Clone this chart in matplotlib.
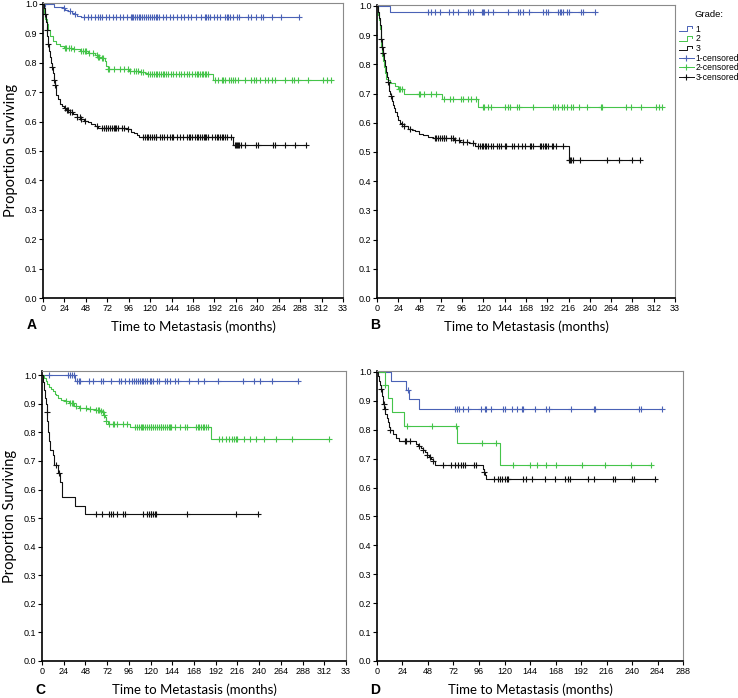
import numpy as np
import matplotlib
matplotlib.use("Agg")
import matplotlib.pyplot as plt
from matplotlib.lines import Line2D
from matplotlib.legend_handler import HandlerBase

# ---- data ----
# panel A
a1_t = [0, 12, 22, 25, 28, 32, 35, 38, 42]
a1_s = [1.0, 0.99, 0.985, 0.98, 0.975, 0.97, 0.965, 0.96, 0.956]
a1_c = [2, 24, 30, 36, 46, 50, 54, 58, 62, 64, 66, 70, 74, 78, 82, 86, 90, 94, 98, 100, 101, 103,
        105, 107, 109, 111, 113, 115, 118, 120, 122, 124, 126, 128, 130, 134, 138, 142, 146, 150,
        154, 158, 162, 166, 171, 177, 181, 183, 185, 187, 191, 195, 198, 204, 206, 207, 209, 213,
        217, 220, 230, 233, 239, 244, 246, 257, 266, 287]
a2_t = [0, 1, 2, 4, 6, 8, 11, 15, 19, 24, 32, 41, 50, 58, 62, 66, 69, 71, 73, 90, 96, 108, 114, 118, 190]
a2_s = [1.0, 0.97, 0.95, 0.93, 0.91, 0.89, 0.875, 0.865, 0.857, 0.85, 0.845, 0.84, 0.833, 0.826, 0.82,
        0.815, 0.805, 0.79, 0.78, 0.777, 0.773, 0.768, 0.764, 0.76, 0.742]
a2_c = [25, 26, 29, 31, 35, 43, 45, 47, 48, 52, 56, 60, 62, 63, 66, 67, 73, 74, 80, 86, 91, 95, 97,
        102, 104, 106, 110, 112, 118, 120, 122, 124, 126, 128, 130, 132, 134, 136, 138, 140, 143,
        146, 149, 152, 155, 158, 161, 164, 167, 170, 172, 174, 176, 178, 179, 181, 183, 185, 193,
        196, 200, 202, 204, 208, 211, 213, 215, 218, 226, 233, 236, 239, 243, 249, 252, 256, 260,
        271, 279, 281, 286, 297, 314, 318, 322]
a3_t = [0, 1, 2, 3, 4, 5, 6, 7, 8, 9, 10, 11, 12, 13, 14, 15, 17, 19, 21, 23, 26, 30, 34, 38, 42,
        46, 50, 54, 58, 62, 94, 98, 102, 105, 108, 213]
a3_s = [1.0, 0.985, 0.965, 0.94, 0.91, 0.89, 0.865, 0.84, 0.82, 0.80, 0.785, 0.765, 0.74, 0.725,
        0.712, 0.69, 0.675, 0.66, 0.652, 0.646, 0.64, 0.633, 0.626, 0.617, 0.61, 0.603, 0.597, 0.591,
        0.585, 0.579, 0.573, 0.566, 0.56, 0.555, 0.549, 0.519]
a3_c = [2, 4, 6, 10, 12, 13, 25, 27, 28, 30, 32, 38, 41, 43, 47, 60, 66, 68, 70, 71, 73, 75, 77,
        79, 81, 82, 84, 88, 91, 95, 112, 114, 116, 118, 120, 122, 124, 126, 127, 131, 133, 135,
        139, 142, 144, 146, 150, 153, 157, 161, 163, 165, 167, 170, 172, 174, 176, 178, 180, 181,
        183, 185, 189, 193, 195, 196, 198, 200, 202, 204, 206, 210, 215, 216, 217, 218, 220, 222,
        226, 239, 241, 258, 260, 271, 282, 295]

# panel B
b1_t = [0, 15]
b1_s = [1.0, 0.978]
b1_c = [58, 61, 65, 71, 81, 86, 91, 103, 105, 108, 118, 119, 121, 125, 131, 148, 159, 161, 165,
        171, 187, 191, 193, 204, 206, 208, 210, 214, 217, 230, 232, 246]
b2_t = [0, 1, 2, 3, 4, 5, 6, 7, 8, 9, 10, 12, 15, 20, 24, 30, 73, 114]
b2_s = [1.0, 0.97, 0.95, 0.92, 0.89, 0.86, 0.83, 0.81, 0.79, 0.77, 0.75, 0.745, 0.735, 0.725,
        0.715, 0.70, 0.68, 0.654]
b2_c = [25, 26, 28, 47, 49, 53, 61, 67, 75, 82, 86, 95, 97, 103, 106, 112, 120, 121, 125, 129,
        144, 148, 150, 158, 160, 176, 198, 201, 204, 209, 211, 214, 219, 221, 228, 237, 252, 254,
        281, 286, 298, 315, 318, 321]
b3_t = [0, 1, 2, 3, 4, 5, 6, 7, 8, 9, 10, 11, 12, 13, 14, 15, 16, 17, 18, 19, 20, 22, 24, 26, 28,
        31, 35, 39, 43, 47, 52, 57, 63, 87, 94, 104, 110, 216]
b3_s = [1.0, 0.98, 0.96, 0.935, 0.91, 0.885, 0.86, 0.84, 0.815, 0.795, 0.775, 0.755, 0.74, 0.725,
        0.71, 0.7, 0.69, 0.675, 0.66, 0.65, 0.638, 0.622, 0.61, 0.6, 0.595, 0.588, 0.58, 0.575,
        0.57, 0.563, 0.558, 0.552, 0.547, 0.541, 0.535, 0.529, 0.52, 0.471]
b3_c = [5, 6, 7, 12, 16, 28, 31, 37, 65, 67, 69, 71, 73, 75, 76, 78, 84, 86, 88, 93, 97, 101, 108,
        114, 116, 118, 120, 122, 123, 125, 129, 131, 135, 137, 140, 144, 146, 152, 155, 159, 163,
        167, 172, 174, 176, 184, 185, 187, 189, 191, 193, 197, 199, 202, 210, 217, 218, 219, 221,
        229, 259, 273, 287, 296]

# panel C
c1_t = [0, 37]
c1_s = [1.0, 0.979]
c1_c = [8, 29, 31, 33, 35, 39, 41, 42, 52, 56, 65, 67, 76, 85, 87, 92, 96, 100, 102, 104, 106,
        108, 110, 112, 114, 116, 119, 121, 123, 127, 129, 136, 138, 141, 147, 150, 163, 172, 179,
        195, 222, 234, 241, 254, 283]
c2_t = [0, 2, 4, 6, 8, 10, 12, 14, 16, 18, 21, 25, 30, 35, 41, 50, 60, 64, 66, 68, 70, 71, 73, 97, 187]
c2_s = [1.0, 0.99, 0.98, 0.97, 0.96, 0.952, 0.944, 0.936, 0.93, 0.922, 0.915, 0.91, 0.902, 0.892,
        0.886, 0.883, 0.88, 0.875, 0.87, 0.862, 0.853, 0.84, 0.828, 0.818, 0.776]
c2_c = [27, 31, 33, 34, 38, 42, 49, 53, 60, 62, 63, 65, 67, 69, 71, 74, 78, 80, 83, 89, 94, 103,
        105, 107, 109, 111, 112, 114, 116, 118, 120, 121, 123, 125, 127, 129, 131, 132, 134, 136,
        138, 140, 141, 143, 147, 152, 158, 160, 170, 172, 174, 176, 178, 179, 181, 183, 196, 199,
        203, 207, 210, 212, 214, 216, 223, 230, 237, 245, 259, 276, 317]
c3_t = [0, 1, 2, 3, 4, 5, 6, 7, 8, 9, 12, 13, 18, 20, 22, 36, 48]
c3_s = [1.0, 0.975, 0.95, 0.92, 0.9, 0.87, 0.84, 0.80, 0.77, 0.737, 0.72, 0.686, 0.658, 0.627,
        0.573, 0.543, 0.515]
c3_c = [5.5, 15, 19, 60, 66, 74, 76, 78, 83, 89, 92, 112, 116, 118, 120, 121, 123, 125, 126, 160,
        214, 239]

# panel D
d1_t = [0, 13, 27, 30, 40]
d1_s = [1.0, 0.968, 0.937, 0.905, 0.873]
d1_c = [29, 73, 75.5, 77, 80.5, 86, 97.5, 101.6, 103, 107, 119, 120.5, 127, 131.5, 136, 137, 149,
        159, 162, 183, 204.5, 205, 247, 248.5, 268]
d2_t = [0, 7.5, 10, 14, 25, 75, 116]
d2_s = [1.0, 0.956, 0.908, 0.862, 0.812, 0.754, 0.678]
d2_c = [8, 28, 52, 74, 99, 112, 128, 144, 151, 159, 168, 193, 215, 239, 258]
d3_t = [0, 1, 2, 3, 4, 5, 6, 7, 8, 9, 10, 11, 12, 15, 18, 21, 37, 39, 41, 43, 45, 47, 49, 51, 53,
        55, 100, 101, 102, 103]
d3_s = [1.0, 0.985, 0.97, 0.955, 0.94, 0.915, 0.89, 0.87, 0.855, 0.84, 0.825, 0.81, 0.80, 0.785,
        0.772, 0.762, 0.752, 0.744, 0.737, 0.73, 0.722, 0.714, 0.706, 0.698, 0.69, 0.677, 0.665,
        0.655, 0.645, 0.629]
d3_c = [4, 6.3, 7.2, 12.6, 26, 27.7, 30.8, 40, 43, 47, 50, 53, 62, 70, 73, 76, 78.6, 80.5, 82.7,
        91, 93, 101, 110, 114, 115.7, 118, 120.5, 122, 123.6, 137, 140, 145.6, 158, 167.6, 177,
        180, 182, 199, 204, 222, 224, 240, 241.5, 262]

ticks_336 = list(range(0, 337, 24))
labels_336 = [str(v) for v in ticks_336[:-1]] + ["33"]
ticks_288 = list(range(0, 289, 24))
labels_288 = [str(v) for v in ticks_288]
grade_labels = ["1", "2", "3", "1-censored", "2-censored", "3-censored"]

BLUE = "#4a62b6"
GREEN = "#45c44a"
BLACK = "#111111"
TICKFONT = "Liberation Sans"
LABFONT = "Lato"

W, H = 738, 698
fig = plt.figure(figsize=(W / 100, H / 100), dpi=100)


def px_axes(l, t, r, b):
    return fig.add_axes([l / W, 1 - b / H, (r - l) / W, (b - t) / H])


def km(ax, t, s, cens, color):
    t = np.asarray(t, float)
    s = np.asarray(s, float)
    c = np.asarray(cens, float)
    end = max(t[-1], c.max())
    ax.step(np.append(t, end), np.append(s, s[-1]), where="post", color=color, lw=0.8)
    idx = np.searchsorted(t, c, side="right") - 1
    ax.plot(c, s[idx], ls="none", marker="+", ms=5, mew=0.8, color=color)


def style(ax, xmax, ticks, labels, ylab, ytop=1.0):
    ax.set_xlim(0, xmax)
    ax.set_ylim(0, ytop)
    ax.set_xticks(ticks)
    ax.set_xticklabels(labels)
    ax.set_yticks(np.round(np.arange(0, 1.01, 0.1), 1))
    ax.set_yticklabels([f"{v:.1f}" for v in np.arange(0, 1.01, 0.1)])
    ax.tick_params(direction="out", length=3, width=0.8, labelsize=6.5, pad=1)
    for lab in ax.get_xticklabels() + ax.get_yticklabels():
        lab.set_fontfamily(TICKFONT)
    for side in ("left", "bottom"):
        ax.spines[side].set_color("black")
        ax.spines[side].set_linewidth(1.2)
    for side in ("top", "right"):
        ax.spines[side].set_color("#8a8a8a")
        ax.spines[side].set_linewidth(0.8)
    ax.set_xlabel("Time to Metastasis (months)", fontsize=9.5, family=LABFONT, labelpad=6)
    if ylab:
        ax.set_ylabel("Proportion Surviving", fontsize=10.5, family=LABFONT, labelpad=5)


panels = [
    (px_axes(43, 3, 343, 298), [(a1_t, a1_s, a1_c), (a2_t, a2_s, a2_c), (a3_t, a3_s, a3_c)], 336, True, "A", 27, 325),
    (px_axes(377, 5, 675, 298), [(b1_t, b1_s, b1_c), (b2_t, b2_s, b2_c), (b3_t, b3_s, b3_c)], 336, False, "B", 370, 325),
    (px_axes(42, 371, 346, 661), [(c1_t, c1_s, c1_c), (c2_t, c2_s, c2_c), (c3_t, c3_s, c3_c)], 336, True, "C", 35, 690),
    (px_axes(377, 371, 683, 661), [(d1_t, d1_s, d1_c), (d2_t, d2_s, d2_c), (d3_t, d3_s, d3_c)], 288, False, "D", 370, 690),
]

for ax, curves, xmax, ylab, letter, lx, ly in panels:
    for (t, s, c), col in zip(curves, [BLUE, GREEN, BLACK]):
        km(ax, t, s, c, col)
    if xmax == 336:
        style(ax, xmax, ticks_336, labels_336, ylab, 1.003 if letter != "C" else 1.015)
    else:
        style(ax, xmax, ticks_288, labels_288, ylab, 1.003)
    fig.text(lx / W, 1 - ly / H, letter, fontsize=10, fontweight="bold", family=TICKFONT,
             ha="left", va="center")


class StepHandler(HandlerBase):
    def create_artists(self, legend, orig_handle, xdescent, ydescent, width, height, fontsize, trans):
        x = np.array([0, 0.55, 0.55, 0.9, 0.9]) * width - xdescent
        y = np.array([0.1, 0.1, 0.85, 0.85, 0.55]) * height - ydescent
        ln = Line2D(x, y, color=orig_handle.get_color(), lw=0.7)
        ln.set_transform(trans)
        return [ln]


g_handles = [Line2D([], [], color=c) for c in (BLUE, GREEN, BLACK)]
c_handles = [Line2D([], [], color=c, lw=0.7, marker="+", ms=5, mew=0.8) for c in (BLUE, GREEN, BLACK)]
hmap = {h: StepHandler() for h in g_handles}
leg = fig.legend(g_handles + c_handles, grade_labels, loc="upper left",
                 bbox_to_anchor=(679 / W, 1 - 10 / H), frameon=False, title="Grade:",
                 prop={"family": TICKFONT, "size": 6.2}, title_fontproperties={"family": TICKFONT, "size": 6.8},
                 handlelength=1.7, handletextpad=0.2, labelspacing=0.08, borderpad=0,
                 borderaxespad=0, handler_map=hmap)
leg._legend_box.sep = 4

fig.savefig("out.png", dpi=100)
